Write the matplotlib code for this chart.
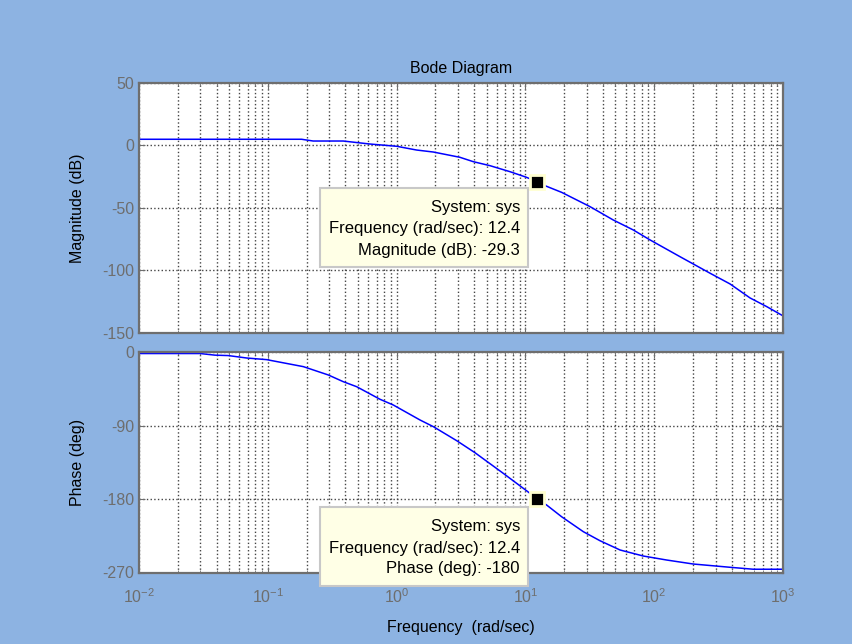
import matplotlib
matplotlib.use("Agg")
import matplotlib.pyplot as plt
from matplotlib.patches import Rectangle
from matplotlib.ticker import LogLocator, NullFormatter, FixedLocator

plt.rcParams['font.family'] = ['Liberation Sans', 'DejaVu Sans']
plt.rcParams['mathtext.fontset'] = 'custom'
plt.rcParams['mathtext.rm'] = 'Liberation Sans'
plt.rcParams['axes.unicode_minus'] = False

# magnitude curve
w_mag = [0.01, 0.183, 0.225, 0.385, 0.621, 1.0, 1.43, 1.93, 3.10, 3.94, 5.31, 7.59,
         10.2, 12.4, 14.2, 19.1, 31.7, 48.1, 68.9, 92.7, 158.5, 271, 388, 555, 747, 1000]
mag_db = [4.8, 4.8, 3.4, 3.4, 1.0, -0.8, -3.8, -5.4, -9.6, -13.1, -16.3, -21.1,
          -25.6, -29.3, -32.3, -37.6, -49.0, -59.7, -67.7, -75.6, -89.0, -102.2,
          -110.8, -122.0, -128.9, -136.3]

# phase curve
w_ph = [0.01, 0.0298, 0.0389, 0.0493, 0.0686, 0.098, 0.189, 0.295, 0.385, 0.490,
        0.743, 0.942, 1.52, 1.93, 2.93, 4.06, 6.73, 10.2, 12.4, 14.6, 19.1, 28.2,
        37.9, 54.3, 82.3, 125, 201, 388, 588, 1000]
ph_deg = [-1.5, -1.5, -3.5, -4.0, -7.0, -9.0, -17.6, -27.8, -36.0, -42.2, -57.6,
          -64.6, -83.0, -91.2, -108.4, -123.1, -148.4, -169.7, -180.0, -187.2,
          -201.6, -220.0, -231.0, -242.4, -249.8, -254.7, -259.6, -263.6, -266.0, -266.0]

# data tips
tip_w = 12.4
tip_mag = -29.3
tip_ph = -180
tip_mag_text = ["System: sys", "Frequency (rad/sec): 12.4", "Magnitude (dB): -29.3"]
tip_ph_text = ["System: sys", "Frequency (rad/sec): 12.4", "Phase (deg): -180"]

mag_ticks = [50, 0, -50, -100, -150]
ph_ticks = [0, -90, -180, -270]

bg = '#8db3e2'
tick_col = '#6e6e6e'
fs = 11.5

fig = plt.figure(figsize=(8.52, 6.44), dpi=100)
fig.patch.set_facecolor(bg)

ax1 = fig.add_axes([139/852, 1-333/644, 644/852, 250.3/644])
ax2 = fig.add_axes([139/852, 1-572.5/644, 644/852, 220.2/644])

for ax in (ax1, ax2):
    ax.set_xscale('log')
    ax.set_xlim(0.01, 1000)
    ax.xaxis.set_major_locator(LogLocator(base=10, numticks=10))
    ax.xaxis.set_minor_locator(LogLocator(base=10, subs=range(2, 10), numticks=20))
    ax.xaxis.set_minor_formatter(NullFormatter())
    ax.grid(True, which='major', axis='both', linestyle=':', color='#444444', linewidth=1.0)
    ax.grid(True, which='minor', axis='x', linestyle=':', color='#444444', linewidth=1.0)
    ax.tick_params(which='both', direction='in', colors=tick_col, labelsize=fs,
                   top=True, right=True, length=4)
    ax.tick_params(which='minor', length=2.5)
    for s in ax.spines.values():
        s.set_color('#6e6e6e')
        s.set_linewidth(1.6)
    ax.set_facecolor('white')

ax1.plot(w_mag, mag_db, color='#0000ff', linewidth=1.1)
ax1.set_ylim(-150, 50)
ax1.yaxis.set_major_locator(FixedLocator(mag_ticks))
ax1.tick_params(axis='x', labelbottom=False)
ax1.set_ylabel('Magnitude (dB)', fontsize=fs, color='black', labelpad=12)
ax1.set_title('Bode Diagram', fontsize=fs, color='black', pad=7)

ax2.plot(w_ph, ph_deg, color='#0000ff', linewidth=1.1)
ax2.set_ylim(-270, 0)
ax2.yaxis.set_major_locator(FixedLocator(ph_ticks))
ax2.set_ylabel('Phase (deg)', fontsize=fs, color='black', labelpad=12)
ax2.set_xlabel('Frequency  (rad/sec)', fontsize=fs, color='black', labelpad=10)
ax2.tick_params(axis='x', pad=11)

# data tip markers
for ax, yv in ((ax1, tip_mag), (ax2, tip_ph)):
    ax.plot([tip_w], [yv], marker='s', markersize=10, markerfacecolor='black',
            markeredgecolor='#ffffd0', markeredgewidth=2, clip_on=False, zorder=5)

# data tip boxes (figure pixel positions)
def tip_box(x0, y0, x1, y1, lines):
    fig.patches.append(Rectangle((x0/852, 1-y1/644), (x1-x0)/852, (y1-y0)/644,
                                 transform=fig.transFigure, facecolor='#ffffe6',
                                 edgecolor='#c8c8c8', linewidth=1.5, zorder=10))
    for i, t in enumerate(lines):
        fig.text((x1-8)/852, 1-(y0+20+i*21)/644, t, ha='right', va='center',
                 fontsize=12, color='black', zorder=11)

tip_box(320, 188, 528, 267, tip_mag_text)
tip_box(320, 507, 528, 586, tip_ph_text)

fig.savefig('out.png', dpi=100, facecolor=bg)
